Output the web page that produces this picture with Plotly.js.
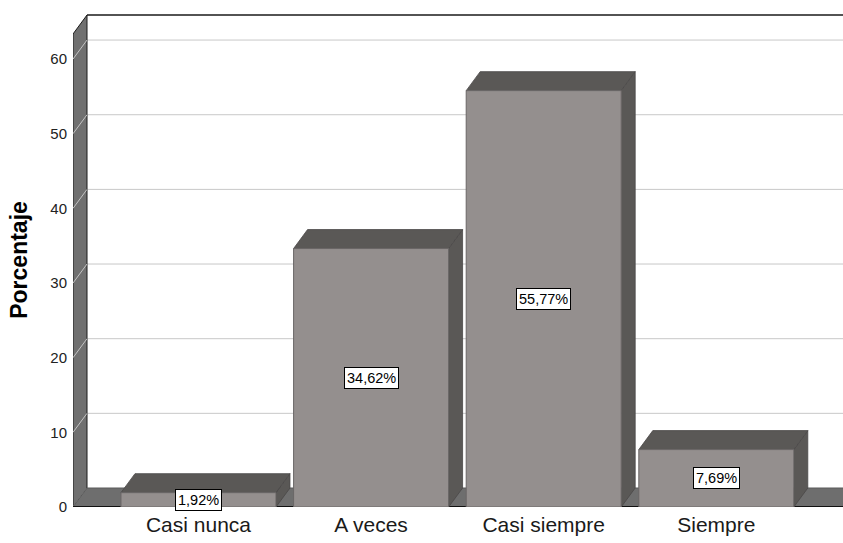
<!DOCTYPE html>
<html>
<head>
<meta charset="utf-8">
<script src="https://cdn.plot.ly/plotly-3.0.1.min.js"></script>
<style>
  html, body { margin: 0; padding: 0; background: #ffffff; }
  #chart { width: 843px; height: 543px; }
</style>
</head>
<body>
<div id="chart"></div>
<script>
// Data
const categories = ['Casi nunca', 'A veces', 'Casi siempre', 'Siempre'];
const percentages = [1.92, 34.62, 55.77, 7.69];
const yTickValues = [0, 10, 20, 30, 40, 50, 60];

// Layout geometry (axis units)
const X_MIN = -0.727, X_MAX = 3.734;
const Y_TOP = 66.17;          // top of plotting area
const WALL_TOP = 65.9;        // top edge of the back wall
const DX = 0.0811, DY = 2.545; // depth offset of the pseudo-3D box
const BAR_W = 0.898;

const FRONT = '#948f8e';
const DARK_FACE = '#5a5856';
const FLOOR = '#6e6e6e';
const WALL = '#707070';

const xs = categories.map((_, i) => i);
const pt = (x, y) => x + ',' + y;
const poly = pts => 'M' + pts.map(p => pt(p[0], p[1])).join(' L') + ' Z';

const shapes = [];
// back wall
shapes.push({type: 'rect', xref: 'x', yref: 'y', layer: 'below',
  x0: X_MIN + DX, x1: X_MAX + DX + 1, y0: DY, y1: WALL_TOP,
  fillcolor: '#ffffff', line: {width: 0}});
// gridlines on the back wall
yTickValues.forEach(t => {
  if (t > 0) {
    shapes.push({type: 'line', xref: 'x', yref: 'y', layer: 'below',
      x0: X_MIN + DX, x1: X_MAX + DX + 1, y0: t + DY, y1: t + DY,
      line: {color: '#c8c8c8', width: 1}});
  }
});
// left side wall with its diagonal grid segments
shapes.push({type: 'path', xref: 'x', yref: 'y', layer: 'below',
  path: poly([[X_MIN, 0], [X_MIN, WALL_TOP - DY], [X_MIN + DX, WALL_TOP], [X_MIN + DX, DY]]),
  fillcolor: WALL, line: {color: '#1a1a1a', width: 1}});
yTickValues.forEach(t => {
  shapes.push({type: 'line', xref: 'x', yref: 'y', layer: 'below',
    x0: X_MIN, x1: X_MIN + DX, y0: t, y1: t + DY,
    line: {color: '#c4c4c4', width: 1}});
});
// top edge of the back wall
shapes.push({type: 'line', xref: 'x', yref: 'y', layer: 'below',
  x0: X_MIN + DX, x1: X_MAX + DX + 1, y0: WALL_TOP, y1: WALL_TOP,
  line: {color: '#1a1a1a', width: 1.5}});
// floor
shapes.push({type: 'path', xref: 'x', yref: 'y', layer: 'below',
  path: poly([[X_MIN, 0], [X_MIN + DX, DY], [X_MAX + DX + 1, DY], [X_MAX + 1, 0]]),
  fillcolor: FLOOR, line: {color: '#5a5a5a', width: 1}});
shapes.push({type: 'line', xref: 'x', yref: 'y', layer: 'below',
  x0: X_MIN, x1: X_MAX + 1, y0: 0, y1: 0,
  line: {color: '#111111', width: 2}});

// top and right faces of each bar
xs.forEach((x, i) => {
  const v = percentages[i];
  const l = x - BAR_W / 2, r = x + BAR_W / 2;
  shapes.push({type: 'path', xref: 'x', yref: 'y', layer: 'below',
    path: poly([[r, 0], [r, v], [r + DX, v + DY], [r + DX, DY]]),
    fillcolor: DARK_FACE, line: {color: '#4a4848', width: 0.8}});
  shapes.push({type: 'path', xref: 'x', yref: 'y', layer: 'below',
    path: poly([[l, v], [l + DX, v + DY], [r + DX, v + DY], [r, v]]),
    fillcolor: DARK_FACE, line: {color: '#4a4848', width: 0.8}});
});

// value labels in the middle of each front face
const annotations = xs.map((x, i) => ({
  x: x, y: percentages[i] / 2, xref: 'x', yref: 'y',
  text: percentages[i].toFixed(2).replace('.', ',') + '%',
  showarrow: false,
  font: {family: 'Liberation Sans, Arial, sans-serif', size: 14.5, color: '#000000'},
  bgcolor: '#ffffff', bordercolor: '#000000', borderwidth: 1, borderpad: 2
}));

const trace = {
  type: 'bar',
  x: xs,
  y: percentages,
  width: BAR_W,
  marker: {color: FRONT, line: {color: '#6a6666', width: 1}},
  hoverinfo: 'none'
};

const layout = {
  width: 843, height: 543,
  margin: {l: 73, r: 0, t: 13, b: 36, pad: 0},
  paper_bgcolor: '#ffffff',
  plot_bgcolor: '#ffffff',
  showlegend: false,
  bargap: 0,
  font: {family: 'Liberation Sans, Arial, sans-serif', color: '#222222'},
  xaxis: {
    range: [X_MIN, X_MAX],
    tickvals: xs, ticktext: categories,
    showgrid: false, zeroline: false, showline: false, ticks: '',
    ticklabelstandoff: 3,
    tickfont: {size: 21, color: '#1a1a1a'},
    fixedrange: true
  },
  yaxis: {
    range: [0, Y_TOP],
    tickvals: yTickValues,
    showgrid: false, zeroline: false, showline: false, ticks: '',
    ticklabelstandoff: 5,
    tickfont: {size: 15, color: '#222222'},
    title: {text: 'Porcentaje', font: {size: 23, color: '#000000', weight: 'bold'}, standoff: 16},
    fixedrange: true
  },
  shapes: shapes,
  annotations: annotations
};

Plotly.newPlot('chart', [trace], layout, {displayModeBar: false, staticPlot: true});
</script>
</body>
</html>
